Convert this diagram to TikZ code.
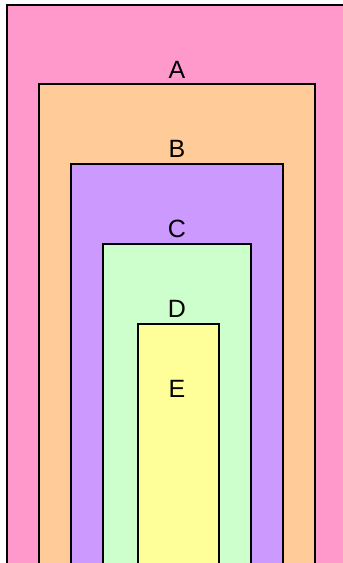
\documentclass[tikz,border=0pt]{standalone}
\usepackage{fontspec}
\setmainfont{Liberation Sans}
\definecolor{pinkA}{HTML}{FF99CC}
\definecolor{orangeB}{HTML}{FFCC99}
\definecolor{purpleC}{HTML}{CC99FF}
\definecolor{greenD}{HTML}{CCFFCC}
\definecolor{yellowE}{HTML}{FFFF99}
\begin{document}
\begin{tikzpicture}[x=1pt,y=1pt,
        box/.style={draw=black, line width=2pt},
        lbl/.style={font=\fontsize{25}{30}\selectfont, inner sep=0pt, anchor=base}]
        \useasboundingbox (0,0) rectangle (343,-563);
        \begin{scope}
            \clip (0,0) rectangle (343,-563);
            \draw[box, fill=pinkA] (7,-5) rectangle (360,-580);
            \draw[box, fill=orangeB] (39,-84) rectangle (315,-580);
            \draw[box, fill=purpleC] (71,-164) rectangle (283,-580);
            \draw[box, fill=greenD] (103,-244) rectangle (251,-580);
            \draw[box, fill=yellowE] (138,-324) rectangle (219,-580);
        \end{scope}

        \node[lbl] (a) at (177,-78) {A};
        \node[lbl] (b) at (177,-157) {B};
        \node[lbl] (c) at (177,-237) {C};
        \node[lbl] (d) at (177,-317) {D};
        \node[lbl] (e) at (177,-397) {E};
    \end{tikzpicture}
\end{document}
